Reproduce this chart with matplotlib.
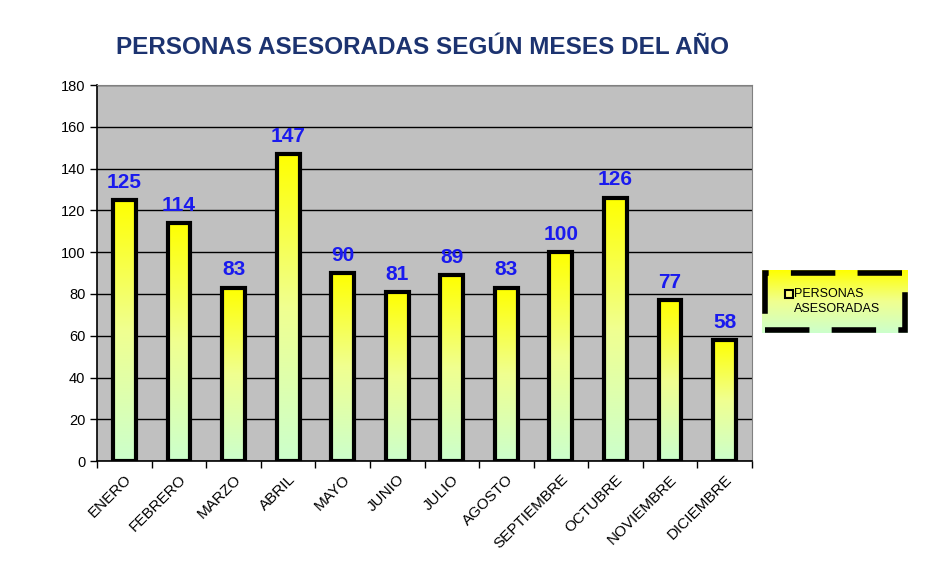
import numpy as np
import matplotlib
matplotlib.use("Agg")
import matplotlib.pyplot as plt
from matplotlib.patches import Rectangle
from matplotlib.colors import LinearSegmentedColormap

plt.rcParams['font.family'] = ['Liberation Sans', 'DejaVu Sans']

# --- datos ---
meses = ["ENERO", "FEBRERO", "MARZO", "ABRIL", "MAYO", "JUNIO", "JULIO",
         "AGOSTO", "SEPTIEMBRE", "OCTUBRE", "NOVIEMBRE", "DICIEMBRE"]
personas = [125, 114, 83, 147, 90, 81, 89, 83, 100, 126, 77, 58]
yticks = list(range(0, 181, 20))

# degradado amarillo -> verde claro
cmap = LinearSegmentedColormap.from_list("yg", ["#ccffcc", "#f0ff90", "#ffff00"])
grad = np.linspace(0, 1, 256).reshape(-1, 1)

fig = plt.figure(figsize=(9.34, 5.63), dpi=100)
fig.patch.set_facecolor("white")
ax = fig.add_axes([0.104, 0.181, 0.701, 0.668])
ax.set_facecolor("#c0c0c0")

x = np.arange(len(meses))
bars = ax.bar(x, personas, width=0.42, facecolor="none", edgecolor="black",
              linewidth=3, zorder=3)
for b in bars:
    x0, y0 = b.get_x(), b.get_y()
    w, h = b.get_width(), b.get_height()
    im = ax.imshow(grad, cmap=cmap, origin="lower", aspect="auto",
                   extent=[x0, x0 + w, y0, y0 + h], zorder=2)
    im.set_clip_path(b)

for xi, v in zip(x, personas):
    ax.text(xi, v + 4, str(v), ha="center", va="bottom", color="#1a1aee",
            fontsize=15, fontweight="bold", zorder=4)

ax.set_xlim(-0.5, len(meses) - 0.5)
ax.set_ylim(0, 180)
ax.set_yticks(yticks)
ax.yaxis.grid(True, color="black", linewidth=1)
ax.set_axisbelow(True)
ax.tick_params(axis="y", labelsize=10.5, length=5, width=1)

ax.set_xticks(np.arange(-0.5, len(meses), 1))
ax.set_xticklabels([])
ax.set_xticks(x, minor=True)
ax.set_xticklabels(meses, minor=True, rotation=45, ha="right",
                   rotation_mode="anchor", fontsize=11)
ax.tick_params(axis="x", which="major", length=5, width=1)
ax.tick_params(axis="x", which="minor", length=0, pad=8)

for s in ["top", "right"]:
    ax.spines[s].set_color("#808080")
for s in ["left", "bottom"]:
    ax.spines[s].set_color("black")
    ax.spines[s].set_linewidth(1.2)

fig.text(0.452, 0.915, "PERSONAS ASESORADAS SEGÚN MESES DEL AÑO",
         ha="center", va="center", fontsize=17.5, fontweight="bold",
         color="#1c3370")

# --- leyenda ---
lax = fig.add_axes([762 / 934, 1 - 333 / 563, 146 / 934, 63 / 563])
lax.imshow(grad, cmap=cmap, origin="lower", aspect="auto",
           extent=[0, 1, 0, 1])
lax.set_xlim(0, 1)
lax.set_ylim(0, 1)
lax.axis("off")
lax.add_patch(Rectangle((0.02, 0.04), 0.96, 0.92, fill=False,
                        edgecolor="black", linewidth=4,
                        linestyle=(0, (8, 4))))
lax.add_patch(Rectangle((0.16, 0.56), 0.05, 0.12, facecolor="#ffff80",
                        edgecolor="black", linewidth=1.5))
lax.text(0.22, 0.62, "PERSONAS", fontsize=9, va="center", ha="left")
lax.text(0.22, 0.38, "ASESORADAS", fontsize=9, va="center", ha="left")

fig.savefig("out.png", dpi=100)
